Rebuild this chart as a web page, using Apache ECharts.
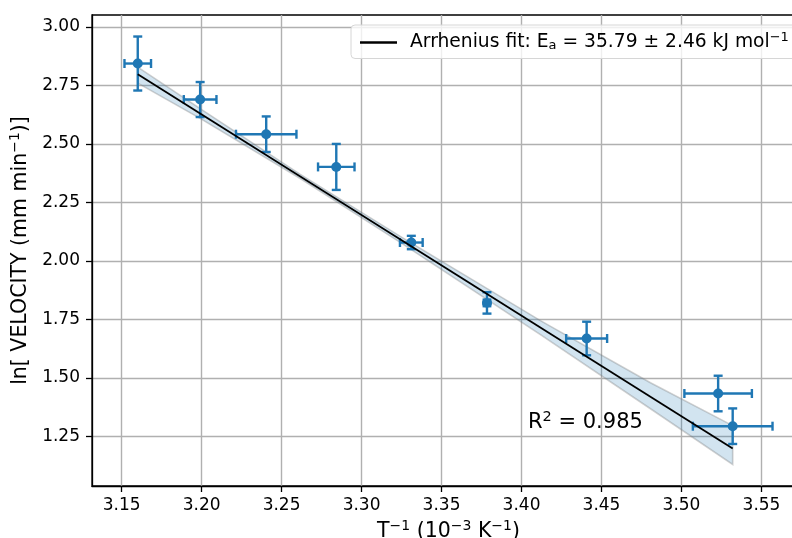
<!DOCTYPE html>
<html style="height: 100%; margin: 0">
<head>
<meta charset="UTF-8">
<title>Arrhenius</title>
</head>
<body style="height: 100%; margin: 0">
<div id="container" style="width:792px;height:538px"></div>
<script type="text/javascript" src="https://cdn.jsdelivr.net/npm/echarts@6/dist/echarts.min.js"></script>
<script type="text/javascript">
	// measured points: 1/T (10^-3 K^-1), ln(velocity), and their errors
	var invT = [3.1601, 3.1991, 3.2404, 3.2842, 3.3311, 3.3784, 3.4407, 3.5229, 3.5320];
	var lnV = [2.8436, 2.6897, 2.5415, 2.4017, 2.0786, 1.8205, 1.6684, 1.4333, 1.2936];
	var invTErr = [0.0083, 0.0102, 0.0189, 0.0114, 0.0071, 0.0020, 0.0128, 0.0211, 0.0249];
	var lnVErr = [0.1154, 0.0748, 0.0760, 0.0983, 0.0286, 0.0457, 0.0718, 0.0760, 0.0760];
	// fit line ends
	var fitX = [3.1601, 3.5320];
	var fitY = [2.7979, 1.1983];
	// confidence band
	var bandX = [3.1601, 3.1991, 3.2617, 3.3242, 3.4118, 3.4806, 3.5320];
	var bandUpper = [2.828, 2.651, 2.370, 2.105, 1.745, 1.479, 1.296];
	var bandLower = [2.760, 2.609, 2.352, 2.079, 1.685, 1.368, 1.130];
	var xTicks = [3.15, 3.20, 3.25, 3.30, 3.35, 3.40, 3.45, 3.50, 3.55];
	var yTicks = [1.25, 1.50, 1.75, 2.00, 2.25, 2.50, 2.75, 3.00];

	var blue = '#1f77b4';
	var font = 'DejaVu Sans';

	var pts = [], errs = [];
	for (var i = 0; i < invT.length; i++) {
		pts.push([invT[i], lnV[i]]);
		errs.push([invT[i], lnV[i], invTErr[i], lnVErr[i]]);
	}
	var fitData = [];
	for (var i = 0; i < fitX.length; i++) fitData.push([fitX[i], fitY[i]]);
	var bandData = [];
	for (var i = 0; i < bandX.length; i++) bandData.push([bandX[i], bandUpper[i], bandLower[i]]);

	var supRich = {
		n: {fontFamily: font, fontSize: 20.5, color: '#000'},
		sup: {fontFamily: font, fontSize: 14, color: '#000', padding: [0, 0, 11, 0]}
	};

	var dom = document.getElementById("container");
	var myChart = echarts.init(dom);
	var option = {
		animation: false,
		grid: {
			left: 92, width: 713, top: 15, bottom: 52,
			outerBoundsMode: 'none', containLabel: false,
			show: true, borderColor: '#000', borderWidth: 1.3
		},
		legend: {
			data: ['fit'],
			left: 351,
			top: 25,
			padding: [6, 40, 6, 9],
			itemWidth: 37,
			itemHeight: 2.5,
			icon: 'rect',
			borderColor: '#d6d6d6',
			borderWidth: 1,
			borderRadius: 4,
			backgroundColor: 'rgba(255,255,255,0.8)',
			formatter: function () {
				return '{n|Arrhenius fit: E}{sub|a}{n| = 35.79 ± 2.46 kJ mol}{sup|−1}';
			},
			textStyle: {
				padding: [0, 0, 0, 8],
				rich: {
					n: {fontFamily: font, fontSize: 18.7, color: '#000'},
					sub: {fontFamily: font, fontSize: 13, color: '#000', padding: [7, 0, 0, 0]},
					sup: {fontFamily: font, fontSize: 13, color: '#000', padding: [0, 0, 10, 0]}
				}
			}
		},
		xAxis: {
			type: 'value',
			min: 3.1315,
			max: 3.5772,
			name: 'T{sup|−1} (10{sup|−3} K{sup|−1})',
			nameLocation: 'middle',
			nameGap: 27,
			nameTextStyle: {fontFamily: font, fontSize: 20.5, color: '#000', rich: supRich},
			axisLine: {lineStyle: {color: '#000', width: 1.3}},
			axisTick: {show: true, length: 6, lineStyle: {color: '#000', width: 1.3}, customValues: xTicks},
			axisLabel: {
				customValues: xTicks, margin: 11,
				fontFamily: font, fontSize: 17, color: '#000',
				formatter: function (v) { return v.toFixed(2); }
			},
			splitLine: {show: true, lineStyle: {color: '#b0b0b0', width: 1.4}}
		},
		yAxis: {
			type: 'value',
			min: 1.038,
			max: 3.051,
			name: 'ln[ VELOCITY (mm min{sup|−1})]',
			nameLocation: 'middle',
			nameRotate: 90,
			nameGap: 53,
			nameTextStyle: {fontFamily: font, fontSize: 20.5, color: '#000', rich: supRich},
			axisLine: {show: true, lineStyle: {color: '#000', width: 1.3}},
			axisTick: {show: true, length: 6, lineStyle: {color: '#000', width: 1.3}, customValues: yTicks},
			axisLabel: {
				customValues: yTicks, margin: 12,
				fontFamily: font, fontSize: 17, color: '#000',
				formatter: function (v) { return v.toFixed(2); }
			},
			splitLine: {show: true, lineStyle: {color: '#b0b0b0', width: 1.4}}
		},
		graphic: [{
			type: 'text',
			left: 528,
			top: 410,
			style: {
				text: '{n|R}{sup|2}{n| = 0.985}',
				rich: {
					n: {fontFamily: font, fontSize: 21, fill: '#000'},
					sup: {fontFamily: font, fontSize: 14.5, fill: '#000', padding: [0, 0, 11, 0]}
				}
			}
		}],
		series: [
			{
				name: 'band',
				type: 'custom',
				z: 1,
				silent: true,
				data: bandData,
				encode: {x: 0, y: [1, 2]},
				renderItem: function (params, api) {
					if (params.dataIndex !== 0) return;
					var top = [], bot = [];
					for (var k = 0; k < bandData.length; k++) {
						top.push(api.coord([bandData[k][0], bandData[k][1]]));
						bot.unshift(api.coord([bandData[k][0], bandData[k][2]]));
					}
					return {
						type: 'polygon',
						shape: {points: top.concat(bot)},
						style: {fill: 'rgba(31,119,180,0.2)', stroke: 'rgba(120,120,120,0.35)', lineWidth: 1.6}
					};
				}
			},
			{
				name: 'errors',
				type: 'custom',
				z: 2,
				data: errs,
				encode: {x: 0, y: 1},
				renderItem: function (params, api) {
					var x = api.value(0), y = api.value(1), dx = api.value(2), dy = api.value(3);
					var l = api.coord([x - dx, y]), r = api.coord([x + dx, y]);
					var t = api.coord([x, y + dy]), b = api.coord([x, y - dy]);
					var c = 4.5;
					var st = {stroke: blue, lineWidth: 2.4};
					return {
						type: 'group',
						children: [
							{type: 'line', shape: {x1: l[0], y1: l[1], x2: r[0], y2: r[1]}, style: st},
							{type: 'line', shape: {x1: t[0], y1: t[1], x2: b[0], y2: b[1]}, style: st},
							{type: 'line', shape: {x1: l[0], y1: l[1] - c, x2: l[0], y2: l[1] + c}, style: st},
							{type: 'line', shape: {x1: r[0], y1: r[1] - c, x2: r[0], y2: r[1] + c}, style: st},
							{type: 'line', shape: {x1: t[0] - c, y1: t[1], x2: t[0] + c, y2: t[1]}, style: st},
							{type: 'line', shape: {x1: b[0] - c, y1: b[1], x2: b[0] + c, y2: b[1]}, style: st}
						]
					};
				}
			},
			{
				name: 'data',
				type: 'scatter',
				z: 3,
				symbolSize: 10,
				itemStyle: {color: blue, opacity: 1},
				data: pts
			},
			{
				name: 'fit',
				type: 'line',
				z: 4,
				symbol: 'none',
				itemStyle: {color: '#000'},
				lineStyle: {color: '#000', width: 1.8},
				data: fitData
			}
		]
	};
	myChart.setOption(option, true);
</script>
</body>
</html>
